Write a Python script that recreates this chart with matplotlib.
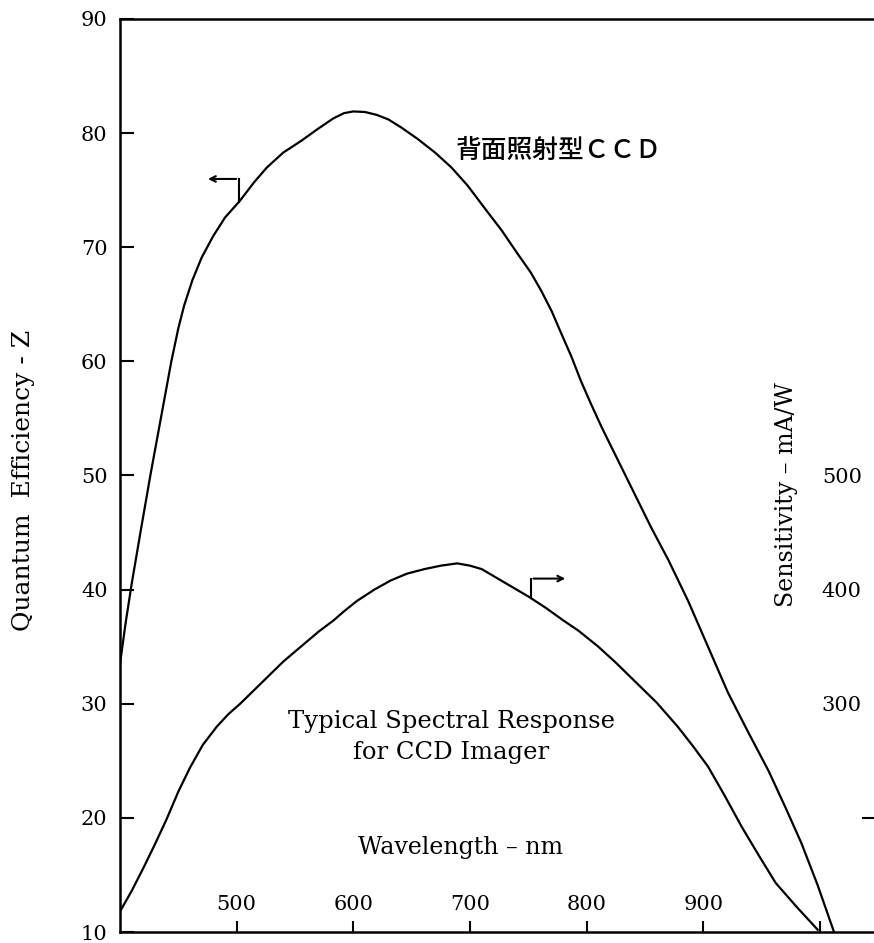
import numpy as np
import matplotlib
matplotlib.use("Agg")
import matplotlib.pyplot as plt

# back-illuminated CCD: wavelength (nm) vs quantum efficiency (%), left axis
qe_wavelength = [400, 405, 410, 418, 426, 435, 444, 450, 455, 462, 470, 480, 490, 503,
                 515, 526, 540, 555, 570, 583, 592, 600, 610, 620, 630, 641, 655, 670,
                 684, 698, 712, 727, 741, 752, 761, 770, 778, 787, 795, 804, 813, 827,
                 841, 855, 870, 887, 904, 921, 938, 956, 970, 984, 998, 1012]
qe_values = [33.5, 37.2, 40.5, 45.3, 50, 55, 60, 62.9, 64.9, 67.1, 69.1, 71.0, 72.6, 74.1,
             75.7, 77, 78.3, 79.3, 80.4, 81.3, 81.75, 81.9, 81.85, 81.6, 81.2, 80.5, 79.5, 78.3,
             77, 75.4, 73.5, 71.5, 69.4, 67.8, 66.2, 64.4, 62.5, 60.4, 58.3, 56.2, 54.2, 51.3,
             48.4, 45.5, 42.6, 39, 35, 31, 27.6, 24.1, 21.0, 17.8, 14.1, 10]

# typical CCD imager: wavelength (nm) vs sensitivity (mA/W), right axis
sens_wavelength = [400, 410, 420, 430, 440, 450, 460, 471, 483, 493, 503, 515, 526,
                   540, 555, 570, 583, 592, 603, 618, 632, 646, 661, 675, 689, 700, 710,
                   720, 735, 750, 765, 780, 793, 810, 825, 841, 860, 878, 891, 904, 918,
                   933, 947, 962, 980, 998]
sens_values = [118, 136, 156, 177, 199, 223, 244, 264, 280, 291, 300, 312, 323,
               337, 350, 363, 373, 381, 390, 400, 408, 414, 418, 421, 423, 421, 418,
               412, 403, 394, 384, 373, 364, 350, 336, 320, 301, 280, 263, 245, 220,
               192, 168, 143, 122, 102]

x_ticks = [500, 600, 700, 800, 900, 1000]
x_tick_labels = ["500", "600", "700", "800", "900", ""]
left_ticks = [10, 20, 30, 40, 50, 60, 70, 80, 90]
right_ticks = [300, 400, 500]

serif = "DejaVu Serif"
plt.rcParams["font.family"] = serif

fig = plt.figure(figsize=(8.74, 9.43), dpi=100)
ax = fig.add_axes([120 / 874, 11 / 943, 756 / 874, 913 / 943])

ax.plot(qe_wavelength, qe_values, color="black", lw=1.6)
ax.set_xlim(400, 1048)
ax.set_ylim(10, 90)
ax.set_xticks(x_ticks)
ax.set_xticklabels(x_tick_labels)
ax.set_yticks(left_ticks)
ax.tick_params(axis="x", direction="in", length=8, width=1.5, pad=-27, labelsize=15)
ax.tick_params(axis="y", direction="in", length=10, width=1.5, pad=9, labelsize=15)
ax.spines["right"].set_visible(False)
for side in ["left", "top", "bottom"]:
    ax.spines[side].set_linewidth(1.8)

ax2 = ax.twinx()
ax2.plot(sens_wavelength, sens_values, color="black", lw=1.6)
ax2.set_ylim(100, 900)
ax2.set_yticks(right_ticks)
ax2.set_yticks([200], minor=True)
ax2.tick_params(axis="y", which="major", length=0, pad=-39, labelsize=15)
ax2.tick_params(axis="y", which="minor", direction="in", length=10, width=1.5)
for s in ax2.spines.values():
    s.set_visible(False)

# curve identification arrows
qe_arrow_x, qe_arrow_end = 502, 473
y0 = np.interp(qe_arrow_x, qe_wavelength, qe_values)
ax.plot([qe_arrow_x, qe_arrow_x], [y0, y0 + 2.0], color="black", lw=1.5)
ax.annotate("", xy=(qe_arrow_end, y0 + 2.0), xytext=(qe_arrow_x, y0 + 2.0),
            arrowprops=dict(arrowstyle="->", lw=1.5, color="black"))

s_arrow_x, s_arrow_end = 752, 784
y1 = np.interp(s_arrow_x, sens_wavelength, sens_values)
ax2.plot([s_arrow_x, s_arrow_x], [y1, y1 + 17], color="black", lw=1.5)
ax2.annotate("", xy=(s_arrow_end, y1 + 17), xytext=(s_arrow_x, y1 + 17),
             arrowprops=dict(arrowstyle="->", lw=1.5, color="black"))

ax.text(776, 78.5, "背面照射型ＣＣＤ", fontsize=18.5, ha="center", va="center",
        family=["Noto Sans CJK JP", serif], weight="medium")
ax.text(684, 27.05, "Typical Spectral Response\nfor CCD Imager", fontsize=17.5,
        ha="center", va="center", linespacing=1.45)
ax.text(692, 17.4, "Wavelength – nm", fontsize=17, ha="center", va="center")

fig.text(24 / 874, 1 - 480 / 943, "Quantum  Efficiency - Z", rotation=90,
         fontsize=18, ha="center", va="center")
fig.text(786 / 874, 1 - 495 / 943, "Sensitivity – mA/W", rotation=90,
         fontsize=17, ha="center", va="center")

fig.savefig("out.png", dpi=100)
